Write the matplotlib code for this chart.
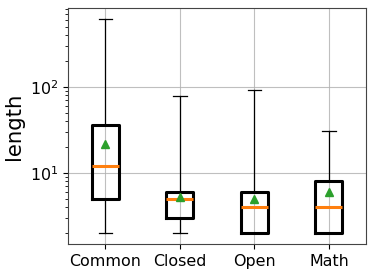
import matplotlib
matplotlib.use("Agg")
import matplotlib.pyplot as plt

categories = ["Common", "Closed", "Open", "Math"]
whislo = [2, 2, 2, 2]
q1 = [5, 3, 2, 2]
med = [12, 5, 4, 4]
q3 = [36, 6, 6, 8]
whishi = [620, 79, 92, 31]
means = [21.5, 5.3, 5.0, 6.0]

stats = []
for i, c in enumerate(categories):
    stats.append(dict(label=c, whislo=whislo[i], q1=q1[i], med=med[i], q3=q3[i],
                      whishi=whishi[i], mean=means[i], fliers=[]))

fig = plt.figure(figsize=(3.74, 2.75), dpi=100)
ax = fig.add_axes([0.182, 0.113, 0.797, 0.858])
ax.bxp(stats, widths=0.36, showmeans=True, showfliers=False,
       boxprops=dict(linewidth=2.2, color="black"),
       medianprops=dict(linewidth=2.2, color="#ff7f0e"),
       whiskerprops=dict(linewidth=0.9, color="black"),
       capprops=dict(linewidth=0.9, color="black"),
       meanprops=dict(marker="^", markerfacecolor="#2ca02c", markeredgecolor="#2ca02c", markersize=6))
ax.set_yscale("log")
ax.grid(True, which="major", color="#b0b0b0", linewidth=0.8, alpha=0.8)
ax.set_axisbelow(True)
ax.set_ylabel("length", fontsize=15.3)
ax.tick_params(axis="both", which="major", labelsize=11.4)
for s in ax.spines.values():
    s.set_color("#444444")
fig.savefig("out.png", dpi=100)
